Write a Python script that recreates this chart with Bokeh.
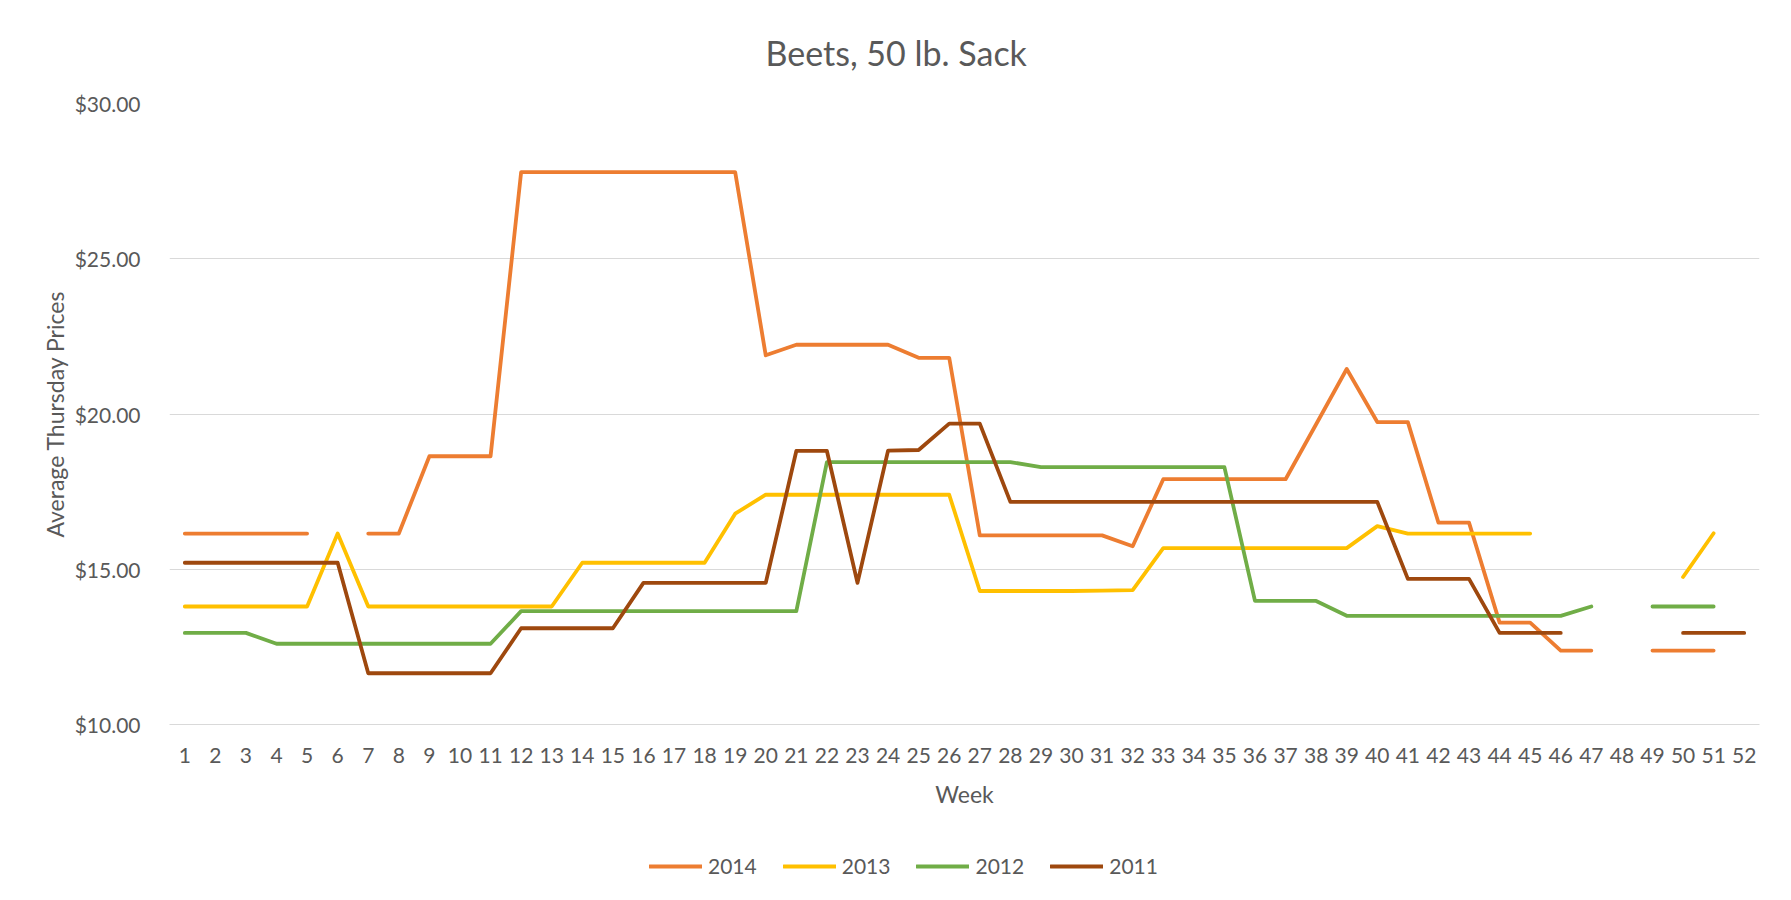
import math
from bokeh.plotting import figure
from bokeh.layouts import column
from bokeh.models import (Range1d, FixedTicker, NumeralTickFormatter, Legend, LegendItem)
from bokeh.embed import file_html
from bokeh.resources import INLINE

NaN = float("nan")

weeks = list(range(1, 53))
week_labels = [str(w) for w in weeks]

price_2014 = [16.15, 16.15, 16.15, 16.15, 16.15, NaN, 16.15, 16.15, 18.64, 18.64,
              18.64, 27.79, 27.79, 27.79, 27.79, 27.79, 27.79, 27.79, 27.79, 21.89,
              22.23, 22.23, 22.23, 22.23, 21.81, 21.81, 16.09, 16.09, 16.09, 16.09,
              16.09, 15.74, 17.90, 17.90, 17.90, 17.90, 17.90, 19.67, 21.45, 19.74,
              19.74, 16.50, 16.50, 13.28, 13.28, 12.38, 12.38, NaN, 12.38, 12.38,
              12.38, NaN]

price_2013 = [13.80, 13.80, 13.80, 13.80, 13.80, 16.15, 13.80, 13.80, 13.80, 13.80,
              13.80, 13.80, 13.80, 15.21, 15.21, 15.21, 15.21, 15.21, 16.79, 17.40,
              17.40, 17.40, 17.40, 17.40, 17.40, 17.40, 14.30, 14.30, 14.30, 14.30,
              14.31, 14.33, 15.68, 15.68, 15.68, 15.68, 15.68, 15.68, 15.68, 16.39,
              16.15, 16.15, 16.15, 16.15, 16.15, NaN, NaN, NaN, NaN, 14.75,
              16.16, NaN]

price_2012 = [12.95, 12.95, 12.95, 12.60, 12.60, 12.60, 12.60, 12.60, 12.60, 12.60,
              12.60, 13.65, 13.65, 13.65, 13.65, 13.65, 13.65, 13.65, 13.65, 13.65,
              13.65, 18.45, 18.45, 18.45, 18.45, 18.45, 18.45, 18.45, 18.29, 18.29,
              18.29, 18.29, 18.29, 18.29, 18.29, 13.98, 13.98, 13.98, 13.50, 13.50,
              13.50, 13.50, 13.50, 13.50, 13.50, 13.50, 13.80, NaN, 13.80, 13.80,
              13.80, NaN]

price_2011 = [15.21, 15.21, 15.21, 15.21, 15.21, 15.21, 11.65, 11.65, 11.65, 11.65,
              11.65, 13.10, 13.10, 13.10, 13.10, 14.56, 14.56, 14.56, 14.56, 14.56,
              18.81, 18.81, 14.56, 18.82, 18.84, 19.69, 19.69, 17.17, 17.17, 17.17,
              17.17, 17.17, 17.17, 17.17, 17.17, 17.17, 17.17, 17.17, 17.17, 17.17,
              14.69, 14.69, 14.69, 12.95, 12.95, 12.95, NaN, NaN, NaN, 12.95,
              12.95, 12.95]

series_names = ["2014", "2013", "2012", "2011"]
series_values = [price_2014, price_2013, price_2012, price_2011]
series_colors = ["#ED7D31", "#FFC000", "#70AD47", "#9E480E"]

y_ticks = [10, 15, 20, 25, 30]

TEXT = "#595959"
GRID = "#D9D9D9"
FONT = "Lato"
LW = 3.8

# ---------------- main chart ----------------
p = figure(frame_width=1590, frame_height=621,
           min_border_left=169, min_border_right=24,
           min_border_top=103, min_border_bottom=110,
           x_range=Range1d(0.5, 52.5), y_range=Range1d(10, 30),
           output_backend="svg", toolbar_location=None,
           title="Beets, 50 lb. Sack")

p.title.align = "left"
p.title.vertical_align = "middle"
p.title.offset = 596
p.title.standoff = 60
p.title.text_font = FONT
p.title.text_font_size = "34px"
p.title.text_font_style = "normal"
p.title.text_color = TEXT

p.outline_line_color = None
p.background_fill_color = "white"
p.border_fill_color = "white"

p.xaxis.ticker = FixedTicker(ticks=weeks)
p.xaxis.major_label_overrides = {w: lab for w, lab in zip(weeks, week_labels)}
p.xaxis.axis_label = "Week"
p.yaxis.ticker = FixedTicker(ticks=y_ticks)
p.yaxis.formatter = NumeralTickFormatter(format="$0.00")
p.yaxis.axis_label = "Average Thursday Prices"

for ax in (p.xaxis[0], p.yaxis[0]):
    ax.major_tick_line_color = None
    ax.minor_tick_line_color = None
    ax.major_label_text_font = FONT
    ax.major_label_text_font_size = "21px"
    ax.major_label_text_color = TEXT
    ax.axis_label_text_font = FONT
    ax.axis_label_text_font_size = "23px"
    ax.axis_label_text_font_style = "normal"
    ax.axis_label_text_color = TEXT

p.xaxis.axis_line_color = GRID
p.xaxis.major_label_standoff = 17
p.xaxis.axis_label_standoff = 14
p.yaxis.axis_line_color = None
p.yaxis.major_label_standoff = 23
p.yaxis.axis_label_standoff = 3

p.xgrid.grid_line_color = None
p.ygrid.grid_line_color = GRID
p.ygrid.grid_line_width = 1

for vals, col in zip(series_values, series_colors):
    p.line(weeks, vals, line_color=col, line_width=LW,
           line_cap="round", line_join="round")

# ---------------- legend strip (below the chart) ----------------
q = figure(frame_width=1590, frame_height=30,
           min_border_left=169, min_border_right=24,
           min_border_top=16, min_border_bottom=8,
           x_range=Range1d(-20, -10), y_range=Range1d(0, 1),
           output_backend="svg", toolbar_location=None)
q.axis.visible = False
q.grid.visible = False
q.outline_line_color = None
q.background_fill_color = "white"
q.border_fill_color = "white"

items = []
for name, vals, col in zip(series_names, series_values, series_colors):
    r = q.line(weeks, vals, line_color=col, line_width=LW,
               line_cap="round", line_join="round")
    items.append(LegendItem(label=name, renderers=[r]))

legend = Legend(items=items, orientation="horizontal", location=(480, 2),
                glyph_width=53, glyph_height=20, label_standoff=6, spacing=26,
                label_text_font=FONT, label_text_font_size="21px",
                label_text_color=TEXT, border_line_color=None,
                background_fill_alpha=0, padding=0, margin=0)
q.add_layout(legend)

layout = column(p, q, spacing=0)
open("out.html", "w").write(file_html(layout, INLINE))
